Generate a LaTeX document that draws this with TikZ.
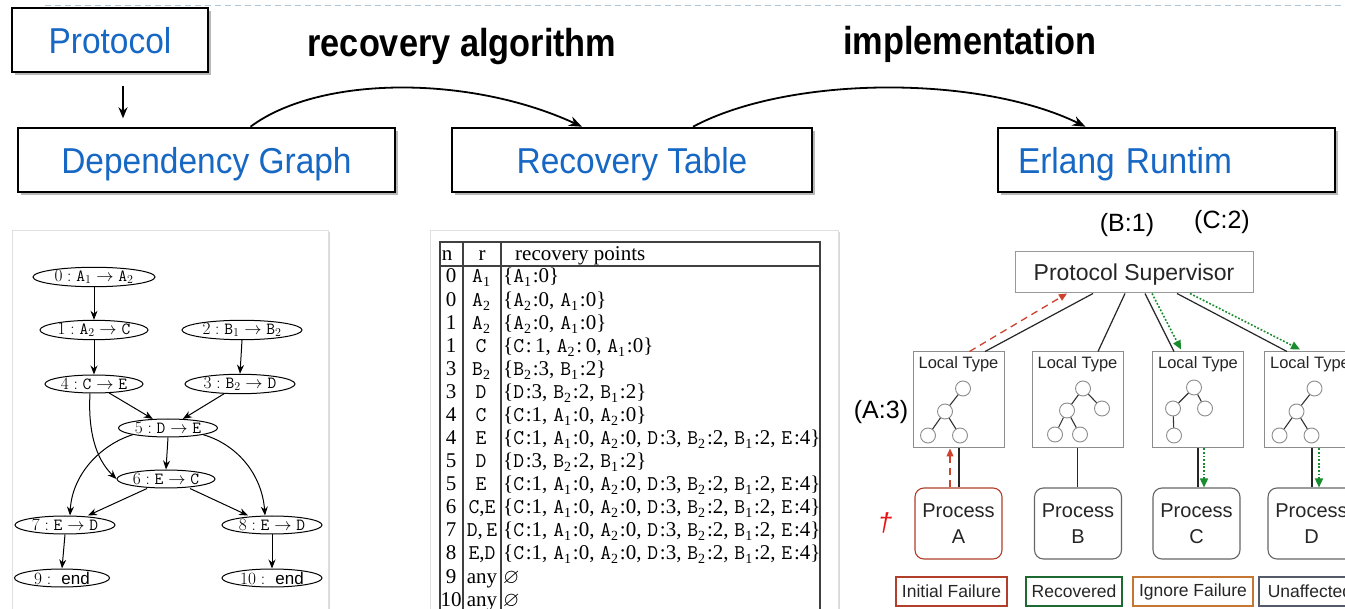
\documentclass[tikz,border=0pt]{standalone}
\usepackage{fontspec}
\usepackage{amssymb}
\usepackage{graphicx}
\usetikzlibrary{shapes.geometric,arrows.meta,shadows,calc}
\newfontfamily\arial{Liberation Sans}
\newfontfamily\tms{Liberation Serif}
\newcommand\fsz[1]{\fontsize{#1}{#1}\selectfont}
\newcommand\cond[2]{\scalebox{#1}[1]{#2}}
\definecolor{lblue}{RGB}{22,104,196}
\definecolor{dashblue}{RGB}{175,198,218}
\definecolor{failred}{RGB}{178,62,44}
\definecolor{recgreen}{RGB}{30,105,50}
\definecolor{ignorange}{RGB}{196,118,50}
\definecolor{unagray}{RGB}{85,90,105}
\definecolor{arrred}{RGB}{205,65,45}
\definecolor{arrgreen}{RGB}{25,140,45}
\definecolor{dagred}{RGB}{235,20,20}
\newcommand\Lsub[2]{{\ttfamily #1}\raisebox{-4pt}{\fsz{14}#2}\kern1.8pt}
\newcommand\Ent[3]{\Lsub{#1}{#2}:#3}
\newcommand\fullset{\{\Ent{C}{}{1},\;\Ent{A}{1}{0},\;\Ent{A}{2}{0},\;\Ent{D}{}{3},\;\Ent{B}{2}{2},\;\Ent{B}{1}{2},\;\Ent{E}{}{4}\}}
\newcommand\treeOne[2]{%
  \node[tc] (#1a) at ($(#2.north)+(4.5,37)$) {};
  \node[tc] (#1b) at ($(#2.north)+(-13.5,60)$) {};
  \node[tc] (#1c) at ($(#2.north)+(-30.5,84)$) {};
  \node[tc] (#1d) at ($(#2.north)+(1.5,84)$) {};
  \draw[te] (#1a) -- (#1b) (#1b) -- (#1c) (#1b) -- (#1d);}
\begin{document}
\begin{tikzpicture}[x=1pt,y=-1pt,
 topbox/.style={draw=black, line width=2.6pt, fill=white, drop shadow={shadow xshift=3pt,shadow yshift=-3pt,fill=black!55,opacity=0.5}, text=lblue, font=\arial\fsz{36}, inner sep=0pt, minimum height=64pt, text depth=0pt},
 bigarr/.style={line width=1.8pt, -{Stealth[length=13pt,width=10pt]}},
 biglabel/.style={font=\arial\bfseries\fsz{39}, text=black, text depth=0pt},
 panel/.style={draw=black!12, line width=0.8pt, fill=white, drop shadow={shadow xshift=2pt,shadow yshift=-2pt,fill=black!25,opacity=0.6}},
 dgn/.style={ellipse, draw=black, line width=1pt, minimum height=18pt, inner sep=0pt, font=\fsz{17}},
 dge/.style={line width=1pt, -{Stealth[length=9pt,width=7pt]}},
 cell/.style={font=\tms\fsz{21}, inner sep=0pt, anchor=base},
 tbl/.style={draw=black!75, line width=1.2pt},
 ltbox/.style={draw=black!45, line width=1pt, minimum width=91pt, minimum height=96pt, inner sep=0pt},
 lttext/.style={font=\arial\fsz{16.5}, text=black!85, inner sep=0pt},
 tc/.style={circle, draw=black!45, fill=white, line width=0.9pt, minimum size=15pt, inner sep=0pt},
 te/.style={draw=black!80, line width=1.1pt},
 proc/.style={draw=black!60, rounded corners=9pt, line width=1.1pt, minimum width=87pt, minimum height=71pt, align=center, font=\arial\fontsize{20}{26}\selectfont, text=black!85},
 legend/.style={line width=2pt, minimum height=29pt, inner sep=0pt, font=\arial\fsz{17.5}, text=black!85},
 conn/.style={draw=black!85, line width=1.2pt},
 redarr/.style={draw=arrred, line width=1.3pt, dash pattern=on 7pt off 5pt, -{Triangle[length=8pt,width=7pt]}},
 grnarr/.style={draw=arrgreen, line width=1.6pt, dash pattern=on 1.8pt off 1.8pt, -{Triangle[length=9pt,width=8pt]}},
 lbl/.style={font=\arial\fsz{25}, text=black, inner sep=0pt}
]
\useasboundingbox (0,0) rectangle (1345,609);
\fill[white] (0,0) rectangle (1345,609);
\draw[dashblue, line width=1pt, dash pattern=on 6pt off 4pt] (45,6) -- (1345,6);

% top row
\node[topbox, minimum width=196pt] (prot) at (110,40) {\cond{0.93}{Protocol}};
\node[topbox, minimum width=377pt] (dg) at (206.5,160) {\cond{0.93}{Dependency Graph}};
\node[topbox, minimum width=360pt] (rt) at (632,160) {\cond{0.93}{Recovery Table}};
\node[topbox, minimum width=337pt, text width=297pt, inner xsep=20pt, align=left] (er) at (1166.5,160) {\cond{0.93}{Erlang Runtim}};
\draw[line width=1.6pt, -{Stealth[length=11pt,width=9pt]}] ([xshift=13pt,yshift=-13pt]prot.south) -- ([xshift=13pt,yshift=-45pt]prot.south);
\node[biglabel] (lab1) at (462,42) {\cond{0.88}{recovery algorithm}};
\node[biglabel] (lab2) at (970,40) {\cond{0.88}{implementation}};
\draw[bigarr] ([xshift=44pt]dg.north) .. controls (320,75) and (470,75) .. ([xshift=-50pt]rt.north);
\draw[bigarr] ([xshift=61pt]rt.north) .. controls (790,75) and (980,75) .. ([xshift=-81pt]er.north);

% panels
\node[panel, minimum width=316pt, minimum height=390pt] (gpanel) at (170,425) {};
\node[panel, minimum width=408pt, minimum height=390pt] (tpanel) at (634,425) {};

% dependency graph
\node[dgn, minimum width=122pt] (g0) at (94,277) {$0:\mathtt{A}_1\rightarrow\mathtt{A}_2$};
\node[dgn, minimum width=108pt] (g1) at (94,330) {$1:\mathtt{A}_2\rightarrow\mathtt{C}$};
\node[dgn, minimum width=120pt] (g2) at (242,330) {$2:\mathtt{B}_1\rightarrow\mathtt{B}_2$};
\node[dgn, minimum width=98pt] (g4) at (94,384) {$4:\mathtt{C}\rightarrow\mathtt{E}$};
\node[dgn, minimum width=110pt] (g3) at (240,384) {$3:\mathtt{B}_2\rightarrow\mathtt{D}$};
\node[dgn, minimum width=99pt] (g5) at (168,428) {$5:\mathtt{D}\rightarrow\mathtt{E}$};
\node[dgn, minimum width=98pt] (g6) at (166,479) {$6:\mathtt{E}\rightarrow\mathtt{C}$};
\node[dgn, minimum width=100pt] (g7) at (65,525) {$7:\mathtt{E}\rightarrow\mathtt{D}$};
\node[dgn, minimum width=100pt] (g8) at (272,525) {$8:\mathtt{E}\rightarrow\mathtt{D}$};
\node[dgn, minimum width=95pt] (g9) at (62,578) {$9:$\ \ {\arial end}};
\node[dgn, minimum width=100pt] (g10) at (272,578) {$10:$\ \ {\arial end}};
\draw[dge] (g0.south) -- (g1.north);
\draw[dge] (g1.south) -- (g4.north);
\draw[dge] (g2.south) -- (g3.north);
\draw[dge] (g4) -- (g5);
\draw[dge] (g3) -- (g5);
\draw[dge] ([xshift=-4pt]g4.south) .. controls (88,430) and (95,458) .. (g6.west);
\draw[dge] (g5.south) -- (g6.north);
\draw[dge] (g5.south west) .. controls (100,445) and (72,475) .. ([xshift=5pt]g7.north);
\draw[dge] (g5.south east) .. controls (238,445) and (262,475) .. ([xshift=-7pt]g8.north);
\draw[dge] ([xshift=-19pt]g6.south) -- ([xshift=23pt]g7.north);
\draw[dge] ([xshift=24pt]g6.south) -- ([xshift=-24pt]g8.north);
\draw[dge] (g7.south) -- (g9.north);
\draw[dge] (g8.south) -- (g10.north);

% recovery table
\draw[tbl] (440,242) rectangle (820,640);
\draw[tbl] (440,266) -- (820,266);
\draw[tbl] (463,242) -- (463,640);
\draw[tbl] (501,242) -- (501,640);
\node[cell] (hn) at (447,261) {n};
\node[cell] (hr) at (482,261) {r};
\node[cell, anchor=base west] (hp) at (515,261) {recovery points};
\foreach \nn/\rr/\pp [count=\i from 0] in {
 0/{\Lsub{A}{1}}/{\{\Ent{A}{1}{0}\}},
 0/{\Lsub{A}{2}}/{\{\Ent{A}{2}{0},\;\Ent{A}{1}{0}\}},
 1/{\Lsub{A}{2}}/{\{\Ent{A}{2}{0},\;\Ent{A}{1}{0}\}},
 1/{\Lsub{C}{}}/{\{\Ent{C}{}{\,1},\;\Ent{A}{2}{\,0},\;\Ent{A}{1}{0}\}},
 3/{\Lsub{B}{2}}/{\{\Ent{B}{2}{3},\;\Ent{B}{1}{2}\}},
 3/{\Lsub{D}{}}/{\{\Ent{D}{}{3},\;\Ent{B}{2}{2},\;\Ent{B}{1}{2}\}},
 4/{\Lsub{C}{}}/{\{\Ent{C}{}{1},\;\Ent{A}{1}{0},\;\Ent{A}{2}{0}\}},
 4/{\Lsub{E}{}}/{\fullset},
 5/{\Lsub{D}{}}/{\{\Ent{D}{}{3},\;\Ent{B}{2}{2},\;\Ent{B}{1}{2}\}},
 5/{\Lsub{E}{}}/{\fullset},
 6/{{\ttfamily C},{\ttfamily E}}/{\fullset},
 7/{{\ttfamily D},\,{\ttfamily E}}/{\fullset},
 8/{{\ttfamily E},{\ttfamily D}}/{\fullset},
 9/{any}/{$\varnothing$},
 10/{any}/{$\varnothing$}}{
 \node[cell] (tn\i) at (451,{283+23.08*\i}) {\nn};
 \node[cell] (tr\i) at (482,{283+23.08*\i}) {\rr};
 \node[cell, anchor=base west] (tp\i) at (503,{283+23.08*\i}) {\pp};
}

% runtime
\node[lbl] (b1) at (1127,225) {(B:1)};
\node[lbl] (c2) at (1222,222) {(C:2)};
\node[lbl] (a3) at (881,412) {(A:3)};
\node[draw=black!40, line width=1pt, minimum width=238pt, minimum height=41pt, font=\arial\fsz{23}, text=black!85, inner sep=0pt, text depth=0pt] (sup) at (1134,272.5) {Protocol Supervisor};
\node[ltbox] (lt1) at (958.5,400) {};
\node[ltbox] (lt2) at (1077.5,400) {};
\node[ltbox] (lt3) at (1198,400) {};
\node[ltbox] (lt4) at (1310,400) {};
\node[lttext] (lt1t) at ($(lt1.north)+(0,13)$) {Local Type};
\node[lttext] (lt2t) at ($(lt2.north)+(0,13)$) {Local Type};
\node[lttext] (lt3t) at ($(lt3.north)+(0,13)$) {Local Type};
\node[lttext] (lt4t) at ($(lt4.north)+(0,13)$) {Local Type};
\treeOne{ta}{lt1}
\treeOne{td}{lt4}
\node[tc] (tba) at ($(lt2.north)+(5.5,37)$) {};
\node[tc] (tbb) at ($(lt2.north)+(-10.5,59)$) {};
\node[tc] (tbc) at ($(lt2.north)+(24.5,57)$) {};
\node[tc] (tbd) at ($(lt2.north)+(-22.5,83)$) {};
\node[tc] (tbe) at ($(lt2.north)+(2.5,83)$) {};
\draw[te] (tba) -- (tbb) (tba) -- (tbc) (tbb) -- (tbd) (tbb) -- (tbe);
\node[tc] (tca) at ($(lt3.north)+(-4,36)$) {};
\node[tc] (tcb) at ($(lt3.north)+(-25,57)$) {};
\node[tc] (tcc) at ($(lt3.north)+(7,57)$) {};
\node[tc] (tcd) at ($(lt3.north)+(-24,84)$) {};
\draw[te] (tca) -- (tcb) (tca) -- (tcc) (tcb) -- (tcd);

\node[proc, draw=failred] (pA) at (958.5,523.5) {Process\\A};
\node[proc] (pB) at (1078,523.5) {Process\\B};
\node[proc] (pC) at (1196.5,523.5) {Process\\C};
\node[proc] (pD) at (1311.5,523.5) {Process\\D};
\node[font=\arial\itshape\fsz{26}, text=dagred, inner sep=0pt] (dag) at (885,523) {†};

\node[legend, draw=failred, minimum width=111pt] (l1) at (951.5,591.5) {Initial Failure};
\node[legend, draw=recgreen, minimum width=96pt] (l2) at (1074,591.5) {Recovered};
\node[legend, draw=ignorange, minimum width=120pt] (l3) at (1193,591.5) {Ignore Failure};
\node[legend, draw=unagray, minimum width=102pt] (l4) at (1310,591.5) {Unaffected};

% connectors supervisor -> local types
\draw[conn] ([xshift=-41pt]sup.south) -- ([xshift=26.5pt]lt1.north);
\draw[redarr] ([xshift=11pt]lt1.north) -- ([xshift=-67pt]sup.south);
\draw[conn] ([xshift=-9pt]sup.south) -- ([xshift=20.5pt]lt2.north);
\draw[conn] ([xshift=11pt]sup.south) -- ([xshift=-24pt]lt3.north);
\draw[grnarr] ([xshift=18pt]sup.south) -- ([xshift=-17pt,yshift=2pt]lt3.north);
\draw[conn] ([xshift=43pt]sup.south) -- ([xshift=-23pt]lt4.north);
\draw[grnarr] ([xshift=56pt]sup.south) -- ([xshift=-10pt,yshift=2pt]lt4.north);
% local types -> processes
\draw[conn] ([xshift=0.5pt]lt1.south) -- ([xshift=0.5pt]pA.north);
\draw[redarr] ([xshift=-8.5pt]pA.north) -- ([xshift=-8.5pt]lt1.south);
\draw[conn] (lt2.south) -- ([xshift=-0.5pt]pB.north);
\draw[conn] (lt3.south) -- ([xshift=1.5pt]pC.north);
\draw[grnarr] ([xshift=6pt]lt3.south) -- ([xshift=7.5pt]pC.north);
\draw[conn] ([xshift=2pt]lt4.south) -- ([xshift=0.5pt]pD.north);
\draw[grnarr] ([xshift=9pt]lt4.south) -- ([xshift=7.5pt]pD.north);
\end{tikzpicture}
\end{document}
